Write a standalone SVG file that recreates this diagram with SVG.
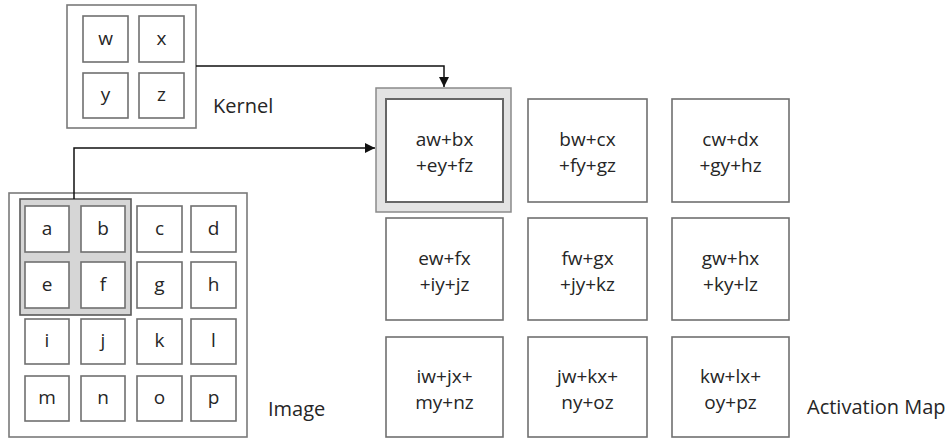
<svg xmlns="http://www.w3.org/2000/svg" width="948" height="439" viewBox="0 0 948 439">
<style>
.frame{fill:#fff;stroke:#7a7a7a;stroke-width:1.6}
.cell{fill:#fff;stroke:#707070;stroke-width:1.6}
.hl{fill:#d6d6d6;stroke:#595959;stroke-width:1.6}
.t{font-family:"Open Sans","Liberation Sans",sans-serif;font-size:19px;fill:#262626;text-anchor:middle}
.lbl{font-family:"Open Sans","Liberation Sans",sans-serif;font-size:20px;fill:#262626}
.conn{fill:none;stroke:#111;stroke-width:1.5}
</style>
<defs>
<marker id="arr" viewBox="0 0 10 10" refX="10" refY="5" markerWidth="10" markerHeight="10" markerUnits="userSpaceOnUse" orient="auto">
<path d="M0,0 L10,5 L0,10 Z" fill="#111"/>
</marker>
</defs>
<rect width="948" height="439" fill="#fff"/>

<g id="kernel">
<rect class="frame" x="67" y="5" width="129" height="123"/>
<rect class="cell" x="83" y="16" width="45" height="46"/>
<rect class="cell" x="139" y="16" width="45" height="46"/>
<rect class="cell" x="83" y="73" width="45" height="45"/>
<rect class="cell" x="139" y="73" width="45" height="45"/>
<text class="t" x="105.5" y="45">w</text>
<text class="t" x="161.5" y="45">x</text>
<text class="t" x="105.5" y="101">y</text>
<text class="t" x="161.5" y="101">z</text>
<text class="lbl" x="213" y="113">Kernel</text>
</g>

<g id="image">
<rect class="frame" x="9" y="193" width="238" height="244"/>
<rect class="hl" x="20" y="199" width="111" height="116"/>
<rect class="cell" x="25" y="206" width="44" height="46"/>
<rect class="cell" x="81" y="206" width="44" height="46"/>
<rect class="cell" x="137" y="206" width="45" height="46"/>
<rect class="cell" x="191" y="206" width="45" height="46"/>
<rect class="cell" x="25" y="262" width="44" height="46"/>
<rect class="cell" x="81" y="262" width="44" height="46"/>
<rect class="cell" x="137" y="262" width="45" height="46"/>
<rect class="cell" x="191" y="262" width="45" height="46"/>
<rect class="cell" x="25" y="319" width="44" height="45"/>
<rect class="cell" x="81" y="319" width="44" height="45"/>
<rect class="cell" x="137" y="319" width="45" height="45"/>
<rect class="cell" x="191" y="319" width="45" height="45"/>
<rect class="cell" x="25" y="376" width="44" height="45"/>
<rect class="cell" x="81" y="376" width="44" height="45"/>
<rect class="cell" x="137" y="376" width="45" height="45"/>
<rect class="cell" x="191" y="376" width="45" height="45"/>
<text class="t" x="47" y="235">a</text>
<text class="t" x="103" y="235">b</text>
<text class="t" x="159.5" y="235">c</text>
<text class="t" x="213.5" y="235">d</text>
<text class="t" x="47" y="291">e</text>
<text class="t" x="103" y="291">f</text>
<text class="t" x="159.5" y="291">g</text>
<text class="t" x="213.5" y="291">h</text>
<text class="t" x="47" y="347">i</text>
<text class="t" x="103" y="347">j</text>
<text class="t" x="159.5" y="347">k</text>
<text class="t" x="213.5" y="347">l</text>
<text class="t" x="47" y="404">m</text>
<text class="t" x="103" y="404">n</text>
<text class="t" x="159.5" y="404">o</text>
<text class="t" x="213.5" y="404">p</text>
<text class="lbl" x="268" y="416">Image</text>
</g>

<g id="activation-map">
<rect x="376" y="88" width="135" height="124" fill="#e3e3e3" stroke="#8a8a8a" stroke-width="1.5"/>
<rect x="386" y="99" width="117" height="103" fill="#fff" stroke="#666" stroke-width="2"/>
<rect class="cell" x="528" y="99" width="119" height="103"/>
<rect class="cell" x="672" y="99" width="117" height="103"/>
<rect class="cell" x="386" y="218" width="117" height="102"/>
<rect class="cell" x="528" y="218" width="119" height="102"/>
<rect class="cell" x="672" y="218" width="117" height="102"/>
<rect class="cell" x="386" y="337" width="117" height="100"/>
<rect class="cell" x="528" y="337" width="119" height="100"/>
<rect class="cell" x="672" y="337" width="117" height="100"/>
<text class="t" x="444.5" y="146">aw+bx</text>
<text class="t" x="444.5" y="172">+ey+fz</text>
<text class="t" x="587.5" y="146">bw+cx</text>
<text class="t" x="587.5" y="172">+fy+gz</text>
<text class="t" x="730.5" y="146">cw+dx</text>
<text class="t" x="730.5" y="172">+gy+hz</text>
<text class="t" x="444.5" y="265">ew+fx</text>
<text class="t" x="444.5" y="291">+iy+jz</text>
<text class="t" x="587.5" y="265">fw+gx</text>
<text class="t" x="587.5" y="291">+jy+kz</text>
<text class="t" x="730.5" y="265">gw+hx</text>
<text class="t" x="730.5" y="291">+ky+lz</text>
<text class="t" x="444.5" y="383">iw+jx+</text>
<text class="t" x="444.5" y="409">my+nz</text>
<text class="t" x="587.5" y="383">jw+kx+</text>
<text class="t" x="587.5" y="409">ny+oz</text>
<text class="t" x="730.5" y="383">kw+lx+</text>
<text class="t" x="730.5" y="409">oy+pz</text>
<text class="lbl" x="807" y="414">Activation Map</text>
</g>

<g id="connectors">
<path class="conn" d="M196,66 H444 V87" marker-end="url(#arr)"/>
<path class="conn" d="M74,199 V148 H375" marker-end="url(#arr)"/>
</g>
</svg>
